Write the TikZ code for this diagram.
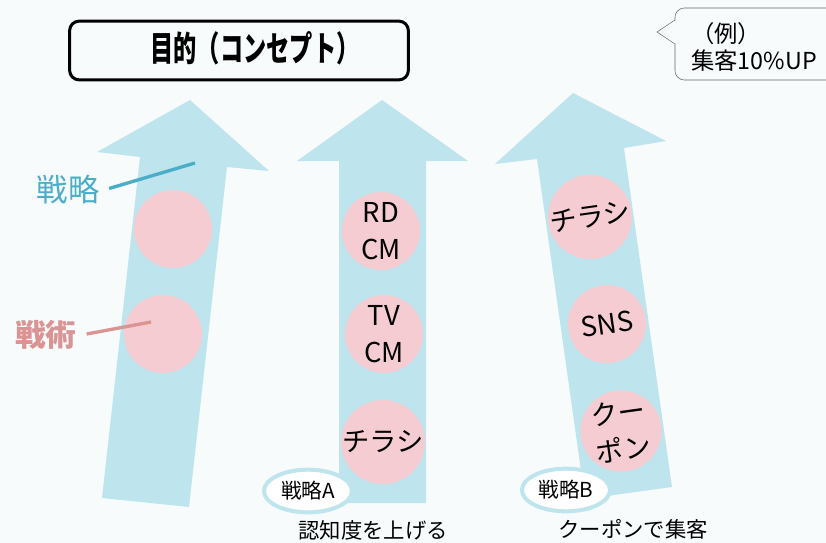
\documentclass[tikz,border=0pt]{standalone}
\usepackage{fontspec}
\setmainfont{Noto Sans CJK JP}
\newfontfamily\titlefont[FakeStretch=0.67]{Noto Sans CJK JP}
\usetikzlibrary{positioning}
\usetikzlibrary{shapes.geometric}
\definecolor{bg}{HTML}{F7FBFC}
\definecolor{arrowblue}{HTML}{BEE4EE}
\definecolor{tacticpink}{HTML}{F5CCD2}
\definecolor{strategyteal}{HTML}{4BAEC8}
\definecolor{tacticred}{HTML}{DB9494}
\begin{document}
\begin{tikzpicture}
  [
    x=0.75pt, y=-0.75pt,
    arrowbody/.style={fill=arrowblue},
    tactic/.style={circle,fill=tacticpink,minimum size=58.5pt,inner sep=0pt,align=center,
      font=\fontsize{20.5}{27.75}\selectfont},
    strategyname/.style={ellipse,draw=arrowblue,line width=3pt,fill=white,
      minimum width=66pt,minimum height=32pt,inner sep=0pt,font=\fontsize{15.5}{18}\selectfont},
    pointer/.style={line width=2.5pt,line cap=butt,shorten <=4pt},
    note/.style={font=\fontsize{16}{19}\selectfont},
  ]
    \useasboundingbox (0,0) rectangle (826,543);
    \clip (0,0) rectangle (826,543);
    \fill [bg] (0,0) rectangle (826,543);
    % goal
    \node [draw,line width=2.25pt,rounded corners=7pt,fill=bg,minimum width=254pt,minimum height=44pt] (goal) at (239,50.5) {};
    \node [font=\titlefont\bfseries\fontsize{26}{30}\selectfont] (goaltext) at (255,48) {目的（コンセプト）};
    % example callout
    \draw [black!60,fill=bg] (675,20) -- (657,32) -- (675,44)
      {[rounded corners=7pt] -- (675,80) -- (860,80) -- (860,8) -- (675,8)} -- cycle;
    \node [anchor=west,align=left,inner sep=0pt,font=\fontsize{17.5}{20.25}\selectfont] (example) at (691,47) {（例）\\集客10\%UP};
    % arrow 1
    \fill [arrowbody] (190,100) -- (269,171) -- (227,167) -- (189,507) -- (102,498) -- (140,157) -- (97,152) -- cycle;
    \node [tactic] (t11) at (173,229) {};
    \node [tactic] (t12) at (163,334) {};
    % arrow 2
    \fill [arrowbody] (382,100) -- (468,161) -- (426,161) -- (426,503) -- (339,503) -- (339,161) -- (297,161) -- cycle;
    \node [tactic] (t21) at (381,231) {RD\\CM};
    \node [tactic] (t22) at (384,334) {TV\\CM};
    \node [tactic] (t23) at (383,442) {チラシ};
    % arrow 3
    \fill [arrowbody] (573,93) -- (666,141) -- (624,148) -- (672,487) -- (585,499) -- (537,159) -- (495,164) -- cycle;
    \node [tactic,rotate=8] (t31) at (590,217) {チラシ};
    \node [tactic,rotate=8] (t32) at (607,324) {SNS};
    \node [tactic,rotate=8] (t33) at (621,431) {クー\\ポン};
    % strategy names
    \node [strategyname] (sa) at (308,491) {戦略A};
    \node [strategyname] (sb) at (566,490) {戦略B};
    \node [note] (sanote) at (373,530) {認知度を上げる};
    \node [note] (sbnote) at (633,529) {クーポンで集客};
    % labels
    \node [text=strategyteal,font=\fontsize{23.5}{27}\selectfont] (lblstrategy) at (68,190) {戦略};
    \node [text=tacticred,font=\bfseries\fontsize{23}{27}\selectfont] (lbltactic) at (46,335) {戦術};
    \coordinate (strategyend) at (195,163);
    \coordinate (tacticend) at (151,322);
    \draw [pointer,strategyteal] (lblstrategy.east) -- (strategyend);
    \draw [pointer,tacticred] (lbltactic.east) -- (tacticend);
  \end{tikzpicture}
\end{document}
